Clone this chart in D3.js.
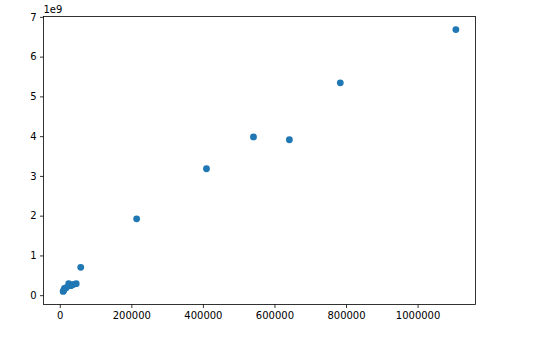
<!DOCTYPE html>
<html>
<head>
<meta charset="utf-8">
<script src="https://cdn.jsdelivr.net/npm/d3@7"></script>
<style>
  body { margin: 0; background: #fff; }
  svg { display: block; }
  .tick text { font-family: "DejaVu Sans", sans-serif; font-size: 10px; fill: #000; }
</style>
</head>
<body>
<svg id="chart" width="550" height="338"></svg>
<script>
// values
var xValues = [9400, 11000, 13000, 18000, 25000, 31000, 38000, 46000, 58600, 214800, 410000, 541300, 641700, 784000, 1107000];
var yValues = [0.095e9, 0.12e9, 0.17e9, 0.19e9, 0.29e9, 0.24e9, 0.27e9, 0.29e9, 0.70e9, 1.92e9, 3.18e9, 3.98e9, 3.91e9, 5.34e9, 6.68e9];
var xTicks = [0, 200000, 400000, 600000, 800000, 1000000];
var yTicks = [0, 1e9, 2e9, 3e9, 4e9, 5e9, 6e9, 7e9];

(function () {
    var svg = d3.select('#chart'),
        plotLeft = 43.5, plotRight = 475.5, plotTop = 16.5, plotBottom = 304.5;

    // matplotlib-like 5% padding
    function padded(vals) {
        var ext = d3.extent(vals), d = (ext[1] - ext[0]) * 0.05;
        return [ext[0] - d, ext[1] + d];
    }

    var x = d3.scaleLinear().domain(padded(xValues)).range([plotLeft, plotRight]);
    var y = d3.scaleLinear().domain(padded(yValues)).range([plotBottom, plotTop]);

    var points = xValues.map(function (v, i) { return [v, yValues[i]]; });

    svg.append('g').selectAll('circle').data(points).enter().append('circle')
        .attr('cx', function (d) { return x(d[0]); })
        .attr('cy', function (d) { return y(d[1]); })
        .attr('r', 3.4)
        .attr('fill', '#1f77b4');

    // axes
    var xAxis = d3.axisBottom(x).tickValues(xTicks).tickSize(3.5).tickPadding(3.5)
        .tickFormat(function (d) { return String(d); });
    var yAxis = d3.axisLeft(y).tickValues(yTicks).tickSize(3.5).tickPadding(3.5)
        .tickFormat(function (d) { return String(d / 1e9); });

    var gx = svg.append('g').attr('transform', 'translate(0,' + plotBottom + ')').call(xAxis);
    var gy = svg.append('g').attr('transform', 'translate(' + plotLeft + ',0)').call(yAxis);
    [gx, gy].forEach(function (g) {
        g.select('.domain').remove();
        g.selectAll('.tick line').attr('stroke', '#000').attr('stroke-width', 0.8);
    });

    // frame
    svg.append('rect')
        .attr('x', plotLeft).attr('y', plotTop)
        .attr('width', plotRight - plotLeft).attr('height', plotBottom - plotTop)
        .attr('fill', 'none').attr('stroke', '#000').attr('stroke-width', 0.8);

    // offset text
    svg.append('text')
        .attr('x', plotLeft).attr('y', plotTop - 4)
        .style('font-family', '"DejaVu Sans", sans-serif')
        .style('font-size', '10px')
        .text('1e9');
})();
</script>
</body>
</html>
